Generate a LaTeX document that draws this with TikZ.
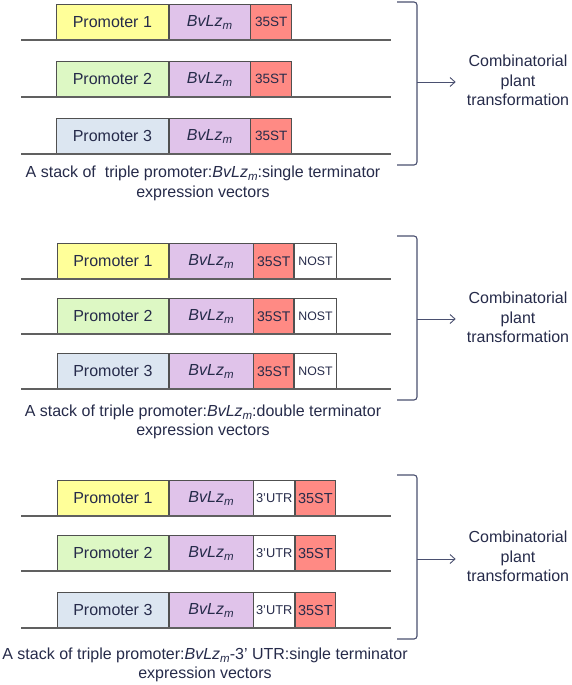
\documentclass[tikz,border=0pt]{standalone}
\usepackage{fontspec}
\setmainfont{Liberation Sans}
\usetikzlibrary{arrows.meta}
\definecolor{txt}{HTML}{262B4A}
\definecolor{brk}{HTML}{4A5070}
\definecolor{pyel}{HTML}{FFFF99}
\definecolor{pgrn}{HTML}{DDF8C4}
\definecolor{pblu}{HTML}{DCE6F1}
\definecolor{ppur}{HTML}{E0C3EA}
\definecolor{pred}{HTML}{FF8A84}
\definecolor{bord}{HTML}{505050}
\definecolor{bline}{HTML}{606060}
\newcommand{\bvlz}{\textit{BvLz}\raisebox{-0.35ex}{\fontsize{11.5}{12}\selectfont\itshape m}}
\tikzset{
  part/.style={draw=bord, line width=0.7pt, anchor=north west, inner sep=0pt,
    minimum height=36pt, text=txt, font=\fontsize{16}{17}\selectfont},
  small/.style={part, font=\fontsize{12.8}{13}\selectfont},
  baseln/.style={draw=bline, line width=1.1pt},
  caption/.style={text=txt, align=center, font=\fontsize{16}{19.5}\selectfont, inner sep=0pt},
  outcome/.style={text=txt, align=center, font=\fontsize{16}{19.5}\selectfont, inner sep=0pt},
  bracket/.style={draw=brk, line width=1.1pt, rounded corners=3pt},
  outarrow/.style={draw=brk, line width=0.9pt, -{Straight Barb[length=5pt,width=9pt]}}
}
\begin{document}
\begin{tikzpicture}[x=1pt,y=-1pt]
\useasboundingbox[fill=white] (0,0) rectangle (571,685);

% ---------- Panel 1 ----------
\foreach \r/\y/\c/\n in {a/4/pyel/1, b/61/pgrn/2, c/118/pblu/3}{
  \node[part, fill=\c, minimum width=112pt] (pA\r) at (56,\y) {Promoter \n};
  \node[part, fill=ppur, minimum width=81pt] (gA\r) at (pA\r.north east) {\bvlz};
  \node[small, fill=pred, minimum width=41pt, font=\fontsize{13.5}{14}\selectfont] (tA\r) at (gA\r.north east) {35ST};
  \coordinate (lA\r) at (21,\y+36);
  \coordinate (rA\r) at (391,\y+36);
  \draw[baseln] (lA\r) -- (rA\r);
}
\node[caption] (capA) at (203,183.5) {A stack of \ triple promoter:\bvlz:single terminator\\expression vectors};
\coordinate (bA1) at (397,2);
\coordinate (bA2) at (417,2);
\coordinate (bA3) at (417,165);
\coordinate (bA4) at (397,165);
\coordinate (bAm) at (417,82);
\draw[bracket] (bA1) -- (bA2) -- (bA3) -- (bA4);
\node[outcome] (oA) at (518,80.5) {Combinatorial\\plant\\transformation};
\draw[outarrow] (bAm) -- ([xshift=-11pt]oA.west |- bAm);

% ---------- Panel 2 ----------
\foreach \r/\y/\c/\n in {a/243/pyel/1, b/298/pgrn/2, c/353/pblu/3}{
  \node[part, fill=\c, minimum width=111pt] (pB\r) at (57,\y) {Promoter \n};
  \node[part, fill=ppur, minimum width=84pt] (gB\r) at (pB\r.north east) {\bvlz};
  \node[small, fill=pred, minimum width=40pt, font=\fontsize{14}{15}\selectfont] (tB\r) at (gB\r.north east) {35ST};
  \node[small, fill=white, minimum width=42pt, font=\fontsize{12.3}{13}\selectfont] (nB\r) at (tB\r.north east) {NOST};
  \coordinate (lB\r) at (21,\y+36);
  \coordinate (rB\r) at (391,\y+36);
  \draw[baseln] (lB\r) -- (rB\r);
}
\node[caption] (capB) at (203,422) {A stack of triple promoter:\bvlz:double terminator\\expression vectors};
\coordinate (bB1) at (397,236);
\coordinate (bB2) at (417,236);
\coordinate (bB3) at (417,400);
\coordinate (bB4) at (397,400);
\coordinate (bBm) at (417,319);
\draw[bracket] (bB1) -- (bB2) -- (bB3) -- (bB4);
\node[outcome] (oB) at (518,317.5) {Combinatorial\\plant\\transformation};
\draw[outarrow] (bBm) -- ([xshift=-11pt]oB.west |- bBm);

% ---------- Panel 3 ----------
\foreach \r/\y/\c/\n in {a/480/pyel/1, b/535/pgrn/2, c/592/pblu/3}{
  \node[part, fill=\c, minimum width=111pt] (pC\r) at (57,\y) {Promoter \n};
  \node[part, fill=ppur, minimum width=84pt] (gC\r) at (pC\r.north east) {\bvlz};
  \node[small, fill=white, minimum width=41pt] (uC\r) at (gC\r.north east) {3'UTR};
  \node[small, fill=pred, minimum width=40pt, font=\fontsize{14.5}{15}\selectfont] (tC\r) at (uC\r.north east) {35ST};
  \coordinate (lC\r) at (21,\y+36);
  \coordinate (rC\r) at (391,\y+36);
  \draw[baseln] (lC\r) -- (rC\r);
}
\node[caption] (capC) at (205,665) {A stack of triple promoter:\bvlz-3' UTR:single terminator\\expression vectors};
\coordinate (bC1) at (397,475);
\coordinate (bC2) at (417,475);
\coordinate (bC3) at (417,639);
\coordinate (bC4) at (397,639);
\coordinate (bCm) at (417,559);
\draw[bracket] (bC1) -- (bC2) -- (bC3) -- (bC4);
\node[outcome] (oC) at (518,556.5) {Combinatorial\\plant\\transformation};
\draw[outarrow] (bCm) -- ([xshift=-11pt]oC.west |- bCm);
\end{tikzpicture}
\end{document}
